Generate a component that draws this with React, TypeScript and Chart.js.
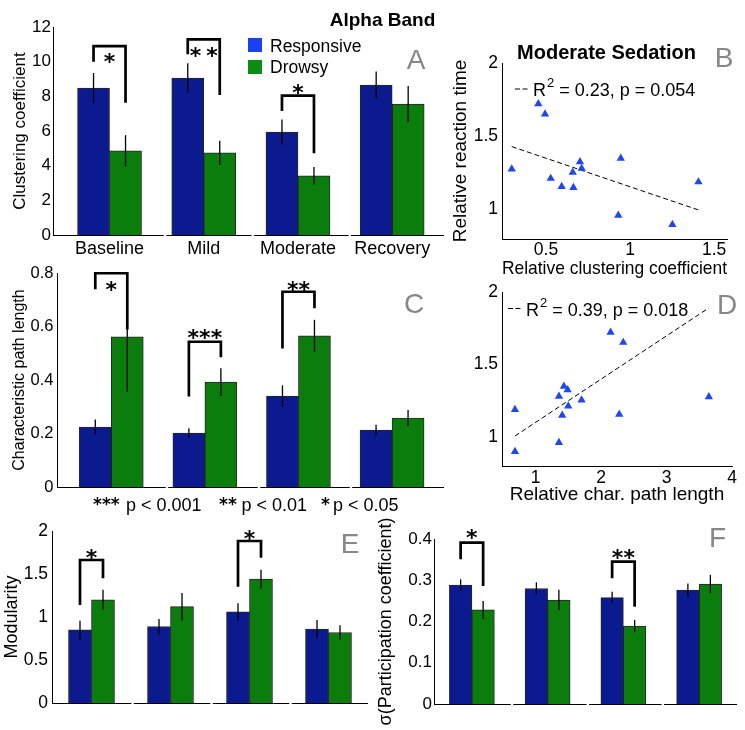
import React, { useEffect, useRef } from 'react';
import { Chart, registerables } from 'chart.js';

Chart.register(...registerables);

const PAGE_W = 745;
const PAGE_H = 730;
const SANS = '"Liberation Sans", Arial, Helvetica, sans-serif';
const STAR = '"DejaVu Sans", sans-serif';

const BAR_BLUE = '#0b1a8e';
const BAR_GREEN = '#0a7d0c';
const KEY_BLUE = '#1741f2';
const KEY_GREEN = '#0b8c12';
const TRI_BLUE = '#1f47ee';
const EDGE = 'rgba(0,0,0,0.85)';
const LETTER_GRAY = '#878787';

Chart.defaults.font.family = SANS;
Chart.defaults.color = '#000';

// ---------------- data ----------------
const categories = ['Baseline', 'Mild', 'Moderate', 'Recovery'];
const seriesNames = ['Responsive', 'Drowsy'];

// A: clustering coefficient
const clusterResp = [8.48, 9.06, 5.94, 8.65];
const clusterRespErr = [0.87, 0.85, 0.72, 0.78];
const clusterDrowsy = [4.86, 4.74, 3.42, 7.56];
const clusterDrowsyErr = [0.9, 0.7, 0.5, 1.04];

// C: characteristic path length
const pathResp = [0.224, 0.202, 0.34, 0.213];
const pathRespErr = [0.028, 0.018, 0.04, 0.02];
const pathDrowsy = [0.561, 0.392, 0.565, 0.258];
const pathDrowsyErr = [0.205, 0.052, 0.06, 0.03];

// E: modularity
const modResp = [0.85, 0.89, 1.06, 0.86];
const modRespErr = [0.105, 0.087, 0.1, 0.106];
const modDrowsy = [1.2, 1.12, 1.44, 0.82];
const modDrowsyErr = [0.116, 0.16, 0.108, 0.083];

// F: sigma(participation coefficient)
const partResp = [0.288, 0.28, 0.258, 0.276];
const partRespErr = [0.014, 0.015, 0.014, 0.016];
const partDrowsy = [0.228, 0.252, 0.189, 0.291];
const partDrowsyErr = [0.022, 0.025, 0.015, 0.022];

type Bracket = { g: number; left: number; top: number; right: number; star: number; label: string; spacing?: number };

const clusterSig: Bracket[] = [
  { g: 0, left: 10.0, top: 10.9, right: 7.63, star: 10.29, label: '*' },
  { g: 1, left: 10.43, top: 11.29, right: 8.08, star: 10.67, label: '**', spacing: 5 },
  { g: 2, left: 7.16, top: 8.04, right: 4.71, star: 8.51, label: '*' },
];
const pathSig: Bracket[] = [
  { g: 0, left: 0.739, top: 0.799, right: 0.589, star: 0.759, label: '*' },
  { g: 1, left: 0.338, top: 0.543, right: 0.485, star: 0.578, label: '***' },
  { g: 2, left: 0.518, top: 0.73, right: 0.668, star: 0.759, label: '**' },
];
const modSig: Bracket[] = [
  { g: 0, left: 1.14, top: 1.663, right: 1.45, star: 1.756, label: '*' },
  { g: 2, left: 1.352, top: 1.884, right: 1.69, star: 1.97, label: '*' },
];
const partSig: Bracket[] = [
  { g: 0, left: 0.351, top: 0.391, right: 0.286, star: 0.416, label: '*' },
  { g: 2, left: 0.305, top: 0.345, right: 0.236, star: 0.368, label: '**' },
];

const pLegendStars = ['***', '**', '*'];
const pLegendText = ['p < 0.001', 'p < 0.01', 'p < 0.05'];

// B / D: moderate sedation scatter (13 subjects)
const reactionTime = [0.899, 0.962, 1.15, 1.157, 1.189, 1.213, 1.255, 1.277, 1.281, 1.326, 1.35, 1.652, 1.722];
const relClustering = [1.252, 0.93, 0.663, 0.593, 1.407, 0.528, 0.659, 0.296, 0.712, 0.702, 0.945, 0.494, 0.454];
const relPathLength = [0.684, 1.356, 1.406, 2.277, 0.684, 1.498, 1.702, 3.646, 1.356, 1.489, 1.432, 2.338, 2.145];
const clusterFitX = [0.296, 1.407];
const clusterFitY = [1.43, 0.998];
const pathFitX = [0.684, 3.646];
const pathFitY = [1.007, 1.89];
const clusterStat = ['R', '2', ' = 0.23, p = 0.054'];
const pathStat = ['R', '2', ' = 0.39, p = 0.018'];
const clusterXTicks = [0.5, 1, 1.5];
const pathXTicks = [1, 2, 3, 4];
const rtTicks = [1, 1.5, 2];

// ---------------- helpers ----------------
const fmtTick = (v: any) => String(Math.round(Number(v) * 1000) / 1000);
const NO_GRID = { display: false, drawTicks: false, offset: false };

function capText(
  ctx: CanvasRenderingContext2D,
  str: string,
  x: number,
  yMid: number,
  size: number,
  o: { bold?: boolean; color?: string; align?: CanvasTextAlign; family?: string } = {}
) {
  ctx.save();
  ctx.font = `${o.bold ? 'bold ' : ''}${size}px ${o.family ?? SANS}`;
  ctx.fillStyle = o.color ?? '#000';
  ctx.textAlign = o.align ?? 'left';
  ctx.textBaseline = 'alphabetic';
  ctx.fillText(str, x, yMid + 0.358 * size);
  ctx.restore();
}

function starText(ctx: CanvasRenderingContext2D, str: string, x: number, yMid: number, size: number, align: CanvasTextAlign = 'center', spacing = 0) {
  ctx.save();
  ctx.font = `bold ${size}px ${STAR}`;
  ctx.fillStyle = '#000';
  ctx.textAlign = align;
  ctx.textBaseline = 'alphabetic';
  (ctx as any).letterSpacing = `${spacing}px`;
  ctx.fillText(str, x + (align === 'center' ? spacing / 2 : 0), yMid + 0.58 * size);
  ctx.restore();
}

function panelLetter(ctx: CanvasRenderingContext2D, s: string, x: number, y: number) {
  capText(ctx, s, x, y, 28, { color: LETTER_GRAY, align: 'center' });
}

// ---------------- bar panels ----------------
interface BarPanel {
  x0: number; x1: number; yTop: number; yBottom: number; axisH: number;
  xMin: number; xMax: number; yMax: number; yStep: number;
  resp: number[]; respErr: number[]; drowsy: number[]; drowsyErr: number[];
  barPx: number; showCategories: boolean; catSize: number;
  tickSize: number; tickPad: number;
  yTitle: string; yTitleSize: number; yTitleX: number;
  gaps: number[]; brackets: Bracket[];
  letter: string; letterX: number; letterY: number;
  decorate?: (ctx: CanvasRenderingContext2D) => void;
}

function barConfig(p: BarPanel): any {
  const lh = p.yTitleSize * 1.2;
  const scaleLeft = p.yTitleX - lh / 2;
  const axisW = p.x0 - scaleLeft;
  const plugin = {
    id: 'barExtras',
    afterDatasetsDraw(chart: any) {
      const ctx: CanvasRenderingContext2D = chart.ctx;
      const ys = chart.scales.y;
      const xs = chart.scales.x;
      const area = chart.chartArea;
      const metaR = chart.getDatasetMeta(0);
      const metaD = chart.getDatasetMeta(1);
      ctx.save();
      // segmented x axis
      ctx.strokeStyle = '#000';
      ctx.lineWidth = 1;
      const yb = Math.round(area.bottom) + 0.5;
      const pts = [area.left, ...p.gaps.map((g) => xs.getPixelForValue(g)), area.right];
      for (let i = 0; i < pts.length - 1; i++) {
        const a = i === 0 ? pts[i] : pts[i] + 1.2;
        const b = i === pts.length - 2 ? pts[i + 1] : pts[i + 1] - 1.2;
        ctx.beginPath();
        ctx.moveTo(a, yb);
        ctx.lineTo(b, yb);
        ctx.stroke();
      }
      // error bars
      ctx.lineWidth = 1.3;
      const sets: [any, number[], number[]][] = [
        [metaR, p.resp, p.respErr],
        [metaD, p.drowsy, p.drowsyErr],
      ];
      sets.forEach(([meta, vals, errs]) => {
        meta.data.forEach((el: any, i: number) => {
          ctx.beginPath();
          ctx.moveTo(el.x, ys.getPixelForValue(vals[i] - errs[i]));
          ctx.lineTo(el.x, ys.getPixelForValue(vals[i] + errs[i]));
          ctx.stroke();
        });
      });
      // significance brackets
      ctx.lineWidth = 2.7;
      ctx.lineJoin = 'miter';
      p.brackets.forEach((b) => {
        const lx = metaR.data[b.g].x;
        const rx = metaD.data[b.g].x;
        ctx.beginPath();
        ctx.moveTo(lx, ys.getPixelForValue(b.left));
        ctx.lineTo(lx, ys.getPixelForValue(b.top));
        ctx.lineTo(rx, ys.getPixelForValue(b.top));
        ctx.lineTo(rx, ys.getPixelForValue(b.right));
        ctx.stroke();
        starText(ctx, b.label, (lx + rx) / 2, ys.getPixelForValue(b.star), 22, 'center', b.spacing ?? 0);
      });
      ctx.restore();
    },
    afterDraw(chart: any) {
      const ctx: CanvasRenderingContext2D = chart.ctx;
      panelLetter(ctx, p.letter, p.letterX, p.letterY);
      if (p.decorate) p.decorate(ctx);
    },
  };
  return {
    type: 'bar',
    data: {
      datasets: [
        {
          label: seriesNames[0],
          data: p.resp.map((v, i) => ({ x: i + 1, y: v })),
          backgroundColor: BAR_BLUE,
          borderColor: EDGE,
          borderWidth: 1,
          barThickness: p.barPx,
        },
        {
          label: seriesNames[1],
          data: p.drowsy.map((v, i) => ({ x: i + 1, y: v })),
          backgroundColor: BAR_GREEN,
          borderColor: EDGE,
          borderWidth: 1,
          barThickness: p.barPx,
        },
      ],
    },
    options: {
      responsive: false,
      maintainAspectRatio: false,
      animation: false,
      devicePixelRatio: 1,
      events: [],
      layout: {
        padding: { left: scaleLeft, top: p.yTop, right: PAGE_W - p.x1, bottom: PAGE_H - p.yBottom - p.axisH },
      },
      plugins: { legend: { display: false }, tooltip: { enabled: false }, title: { display: false } },
      scales: {
        x: {
          type: 'linear',
          min: p.xMin,
          max: p.xMax,
          offset: false,
          grid: NO_GRID,
          border: { display: false },
          afterBuildTicks: (s: any) => {
            s.ticks = categories.map((_, i) => ({ value: i + 1 }));
          },
          ticks: {
            display: p.showCategories,
            autoSkip: false,
            maxRotation: 0,
            padding: 3,
            color: '#000',
            font: { family: SANS, size: p.catSize },
            callback: (v: any) => categories[Math.round(Number(v)) - 1] ?? '',
          },
          afterFit: (s: any) => {
            s.height = p.axisH;
          },
        },
        y: {
          type: 'linear',
          min: 0,
          max: p.yMax,
          grid: NO_GRID,
          border: { display: true, color: '#000', width: 1 },
          ticks: {
            stepSize: p.yStep,
            padding: p.tickPad,
            color: '#000',
            font: { family: SANS, size: p.tickSize },
            callback: fmtTick,
          },
          title: { display: true, text: p.yTitle, color: '#000', padding: 0, font: { family: SANS, size: p.yTitleSize } },
          afterFit: (s: any) => {
            s.width = axisW;
          },
        },
      },
    },
    plugins: [plugin],
  };
}

// ---------------- scatter panels ----------------
interface ScatterPanel {
  x0: number; x1: number; yTop: number; yBottom: number;
  xMin: number; xMax: number; yMin: number; yMax: number;
  xTicks: number[]; yTicks: number[];
  xs: number[]; ys: number[]; fitX: number[]; fitY: number[];
  xTitle: string; xTitleY: number; titleSize: number;
  yTitle?: string; yTitleX?: number;
  tickSize: number; xTickPad: number;
  letter: string; letterX: number; letterY: number;
  stat: string[]; statDashX: number; statX: number; statY: number;
  decorate?: (ctx: CanvasRenderingContext2D) => void;
}

function scatterConfig(p: ScatterPanel): any {
  const lh = p.titleSize * 1.2;
  const scaleLeft = p.yTitle ? (p.yTitleX as number) - lh / 2 : p.x0 - 40;
  const axisW = p.x0 - scaleLeft;
  const axisH = p.xTitleY + lh / 2 - p.yBottom;
  const plugin = {
    id: 'scatterExtras',
    afterDraw(chart: any) {
      const ctx: CanvasRenderingContext2D = chart.ctx;
      panelLetter(ctx, p.letter, p.letterX, p.letterY);
      // stat legend
      ctx.save();
      ctx.strokeStyle = '#000';
      ctx.lineWidth = 1;
      ctx.setLineDash([5, 2.5]);
      ctx.beginPath();
      ctx.moveTo(p.statDashX, p.statY - 1);
      ctx.lineTo(p.statDashX + 13, p.statY - 1);
      ctx.stroke();
      ctx.restore();
      ctx.save();
      ctx.font = `18px ${SANS}`;
      let x = p.statX;
      capText(ctx, p.stat[0], x, p.statY, 18);
      x += ctx.measureText(p.stat[0]).width + 1;
      capText(ctx, p.stat[1], x, p.statY - 7.5, 13);
      ctx.font = `13px ${SANS}`;
      x += ctx.measureText(p.stat[1]).width;
      capText(ctx, p.stat[2], x, p.statY, 18);
      ctx.restore();
      if (p.decorate) p.decorate(ctx);
    },
  };
  return {
    type: 'scatter',
    data: {
      datasets: [
        {
          label: 'Subjects',
          data: p.xs.map((x, i) => ({ x, y: p.ys[i] })),
          pointStyle: 'triangle',
          pointRadius: 4.8,
          backgroundColor: TRI_BLUE,
          borderColor: TRI_BLUE,
          borderWidth: 0,
        },
        {
          type: 'line',
          label: 'Fit',
          data: p.fitX.map((x, i) => ({ x, y: p.fitY[i] })),
          borderColor: '#000',
          borderWidth: 1,
          borderDash: [5, 3],
          pointRadius: 0,
          showLine: true,
          fill: false,
          tension: 0,
        },
      ],
    },
    options: {
      responsive: false,
      maintainAspectRatio: false,
      animation: false,
      devicePixelRatio: 1,
      events: [],
      layout: {
        padding: { left: scaleLeft, top: p.yTop, right: PAGE_W - p.x1, bottom: PAGE_H - p.yBottom - axisH },
      },
      plugins: { legend: { display: false }, tooltip: { enabled: false }, title: { display: false } },
      scales: {
        x: {
          type: 'linear',
          min: p.xMin,
          max: p.xMax,
          grid: NO_GRID,
          border: { display: true, color: '#000', width: 1 },
          afterBuildTicks: (s: any) => {
            s.ticks = p.xTicks.map((v) => ({ value: v }));
          },
          ticks: {
            padding: p.xTickPad,
            color: '#000',
            maxRotation: 0,
            autoSkip: false,
            font: { family: SANS, size: p.tickSize },
            callback: fmtTick,
          },
          title: { display: true, text: p.xTitle, color: '#000', padding: 0, font: { family: SANS, size: p.titleSize } },
          afterFit: (s: any) => {
            s.height = axisH;
          },
        },
        y: {
          type: 'linear',
          min: p.yMin,
          max: p.yMax,
          grid: NO_GRID,
          border: { display: true, color: '#000', width: 1 },
          afterBuildTicks: (s: any) => {
            s.ticks = p.yTicks.map((v) => ({ value: v }));
          },
          ticks: { padding: 4, color: '#000', font: { family: SANS, size: p.tickSize }, callback: fmtTick },
          title: {
            display: !!p.yTitle,
            text: p.yTitle ?? '',
            color: '#000',
            padding: 0,
            font: { family: SANS, size: p.titleSize },
          },
          afterFit: (s: any) => {
            s.width = axisW;
          },
        },
      },
    },
    plugins: [plugin],
  };
}

// ---------------- panel specs ----------------
const panelA: BarPanel = {
  x0: 53, x1: 444, yTop: 27, yBottom: 235, axisH: 30,
  xMin: 0.4, xMax: 4.55, yMax: 12, yStep: 2,
  resp: clusterResp, respErr: clusterRespErr, drowsy: clusterDrowsy, drowsyErr: clusterDrowsyErr,
  barPx: 32, showCategories: true, catSize: 18,
  tickSize: 17, tickPad: 2,
  yTitle: 'Clustering coefficient', yTitleSize: 17, yTitleX: 20,
  gaps: [1.59, 2.52, 3.55], brackets: clusterSig,
  letter: 'A', letterX: 416, letterY: 59,
  decorate: (ctx) => {
    capText(ctx, 'Alpha Band', 382.5, 19.5, 19, { bold: true, align: 'center' });
    ctx.save();
    ctx.fillStyle = KEY_BLUE;
    ctx.fillRect(248, 38, 14, 14);
    ctx.fillStyle = KEY_GREEN;
    ctx.fillRect(248, 60, 14, 14);
    ctx.restore();
    capText(ctx, seriesNames[0], 270, 45.5, 17.5);
    capText(ctx, seriesNames[1], 270, 66.8, 17.5);
  },
};

const panelC: BarPanel = {
  x0: 57, x1: 444, yTop: 273, yBottom: 487, axisH: 30,
  xMin: 0.42, xMax: 4.555, yMax: 0.8, yStep: 0.2,
  resp: pathResp, respErr: pathRespErr, drowsy: pathDrowsy, drowsyErr: pathDrowsyErr,
  barPx: 32, showCategories: false, catSize: 18,
  tickSize: 16.5, tickPad: 3.5,
  yTitle: 'Characteristic path length', yTitleSize: 16, yTitleX: 20,
  gaps: [1.595, 2.578, 3.561], brackets: pathSig,
  letter: 'C', letterX: 414, letterY: 303,
  decorate: (ctx) => {
    const starX = [93, 219, 321];
    const textX = [126, 241.5, 333];
    pLegendStars.forEach((s, i) => {
      starText(ctx, s, starX[i], 500, 17, 'left');
      capText(ctx, pLegendText[i], textX[i], 504.6, 18);
    });
  },
};

const panelE: BarPanel = {
  x0: 52, x1: 368, yTop: 531, yBottom: 703, axisH: 20,
  xMin: 0.5, xMax: 4.5, yMax: 2, yStep: 0.5,
  resp: modResp, respErr: modRespErr, drowsy: modDrowsy, drowsyErr: modDrowsyErr,
  barPx: 23, showCategories: false, catSize: 18,
  tickSize: 17.5, tickPad: 4,
  yTitle: 'Modularity', yTitleSize: 18, yTitleX: 12,
  gaps: [1.52, 2.52, 3.52], brackets: modSig,
  letter: 'E', letterX: 350, letterY: 543,
};

const panelF: BarPanel = {
  x0: 434, x1: 737, yTop: 539, yBottom: 704, axisH: 20,
  xMin: 0.5, xMax: 4.5, yMax: 0.4, yStep: 0.1,
  resp: partResp, respErr: partRespErr, drowsy: partDrowsy, drowsyErr: partDrowsyErr,
  barPx: 22.5, showCategories: false, catSize: 18,
  tickSize: 17, tickPad: 2,
  yTitle: 'σ(Participation coefficient)', yTitleSize: 18, yTitleX: 386,
  gaps: [1.53, 2.53, 3.52], brackets: partSig,
  letter: 'F', letterX: 717.5, letterY: 537,
};

const panelB: ScatterPanel = {
  x0: 502, x1: 727, yTop: 63, yBottom: 239,
  xMin: 0.238, xMax: 1.577, yMin: 0.8, yMax: 2,
  xTicks: clusterXTicks, yTicks: rtTicks,
  xs: relClustering, ys: reactionTime, fitX: clusterFitX, fitY: clusterFitY,
  xTitle: 'Relative clustering coefficient', xTitleY: 268.5, titleSize: 19,
  yTitle: 'Relative reaction time', yTitleX: 461,
  tickSize: 17.5, xTickPad: 0.5,
  letter: 'B', letterX: 724, letterY: 57,
  stat: clusterStat, statDashX: 515, statX: 533, statY: 90,
  decorate: (ctx) => {
    capText(ctx, 'Moderate Sedation', 606.5, 51.7, 20, { bold: true, align: 'center' });
  },
};

const panelD: ScatterPanel = {
  x0: 502, x1: 732, yTop: 292, yBottom: 466,
  xMin: 0.486, xMax: 4, yMin: 0.8, yMax: 2,
  xTicks: pathXTicks, yTicks: rtTicks,
  xs: relPathLength, ys: reactionTime, fitX: pathFitX, fitY: pathFitY,
  xTitle: 'Relative char. path length', xTitleY: 494.5, titleSize: 19,
  tickSize: 17.5, xTickPad: 2,
  letter: 'D', letterX: 727, letterY: 304,
  stat: pathStat, statDashX: 508, statX: 526, statY: 309.5,
};

// ---------------- components ----------------
function ChartLayer({ config }: { config: () => any }) {
  const ref = useRef<HTMLCanvasElement>(null);
  useEffect(() => {
    if (!ref.current) return;
    const chart = new Chart(ref.current, config());
    return () => chart.destroy();
  }, [config]);
  return (
    <canvas
      ref={ref}
      width={PAGE_W}
      height={PAGE_H}
      style={{ position: 'absolute', left: 0, top: 0, width: PAGE_W, height: PAGE_H }}
    />
  );
}

const makeA = () => barConfig(panelA);
const makeB = () => scatterConfig(panelB);
const makeC = () => barConfig(panelC);
const makeD = () => scatterConfig(panelD);
const makeE = () => barConfig(panelE);
const makeF = () => barConfig(panelF);

export default function App() {
  return (
    <div
      style={{
        position: 'absolute',
        left: 0,
        top: 0,
        width: PAGE_W,
        height: PAGE_H,
        background: '#fff',
        overflow: 'hidden',
      }}
    >
      <ChartLayer config={makeA} />
      <ChartLayer config={makeB} />
      <ChartLayer config={makeC} />
      <ChartLayer config={makeD} />
      <ChartLayer config={makeE} />
      <ChartLayer config={makeF} />
    </div>
  );
}
